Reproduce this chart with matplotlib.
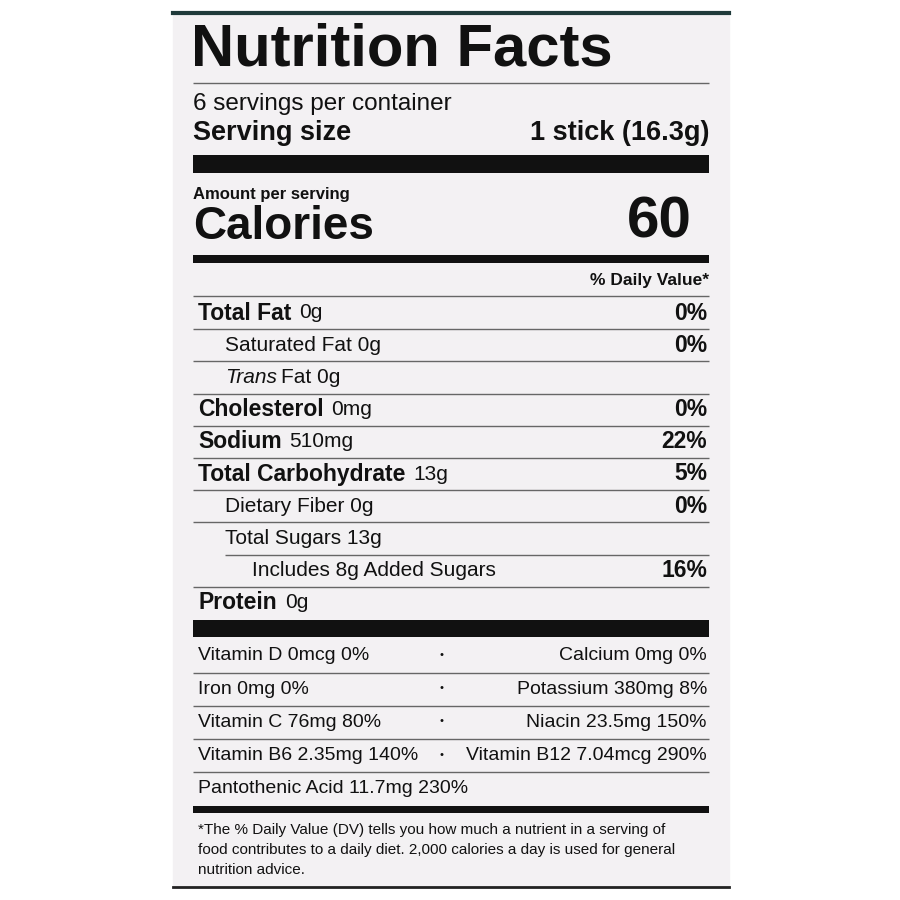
import matplotlib
matplotlib.use("Agg")
import matplotlib.pyplot as plt

plt.rcParams['font.family'] = ['Liberation Sans', 'DejaVu Sans']

title = "Nutrition Facts"
servings = "6 servings per container"
serving_size = "1 stick (16.3g)"
calories = "60"

# (label, amount, %DV, indent level)
nutrients = [
    ("Total Fat", "0g", "0%", 0),
    ("Saturated Fat", "0g", "0%", 1),
    ("Trans", "Fat 0g", "", 1),
    ("Cholesterol", "0mg", "0%", 0),
    ("Sodium", "510mg", "22%", 0),
    ("Total Carbohydrate", "13g", "5%", 0),
    ("Dietary Fiber", "0g", "0%", 1),
    ("Total Sugars", "13g", "", 1),
    ("Includes 8g Added Sugars", "", "16%", 2),
    ("Protein", "0g", "", 0),
]
vitamins_left = ["Vitamin D 0mcg 0%", "Iron 0mg 0%", "Vitamin C 76mg 80%",
                 "Vitamin B6 2.35mg 140%", "Pantothenic Acid 11.7mg 230%"]
vitamins_right = ["Calcium 0mg 0%", "Potassium 380mg 8%", "Niacin 23.5mg 150%",
                  "Vitamin B12 7.04mcg 290%", ""]
footnote = ["*The % Daily Value (DV) tells you how much a nutrient in a serving of",
            "food contributes to a daily diet. 2,000 calories a day is used for general",
            "nutrition advice."]

fig = plt.figure(figsize=(9, 9), dpi=100)
ax = fig.add_axes([0, 0, 1, 1])
ax.set_xlim(0, 900)
ax.set_ylim(900, 0)
ax.axis('off')

ink = '#111111'
L, R = 193, 709
ax.add_patch(plt.Rectangle((173, 13), 556, 874, color='#f3f1f3', zorder=0))
ax.plot([173, 729], [13, 13], color='#1f3a3a', lw=3)
ax.plot([173, 729], [887, 887], color='#222222', lw=2)

def hline(y, lw=1, x0=L, color='#666666'):
    ax.plot([x0, R], [y, y], color=color, lw=lw, solid_capstyle='butt')

def bar(y0, y1):
    ax.add_patch(plt.Rectangle((L, y0), R - L, y1 - y0, color=ink, lw=0))

ax.text(L - 2, 50, title, fontsize=43, fontweight='bold', va='center', color=ink)
hline(83)
ax.text(L, 104, servings, fontsize=17.5, va='center', color=ink)
ax.text(L, 133, "Serving size", fontsize=19.5, fontweight='bold', va='center', color=ink)
ax.text(R, 133, serving_size, fontsize=19.5, fontweight='bold', va='center', ha='right', color=ink)
bar(155, 173)
ax.text(L, 194, "Amount per serving", fontsize=12, fontweight='bold', va='center', color=ink)
ax.text(L, 227, "Calories", fontsize=33, fontweight='bold', va='center', color=ink)
ax.text(692, 222, calories, fontsize=42, fontweight='bold', va='center', ha='right', color=ink)
bar(255, 263)
ax.text(R, 280, "% Daily Value*", fontsize=12.5, fontweight='bold', va='center', ha='right', color=ink)
hline(296)

fig.canvas.draw()
r = fig.canvas.get_renderer()
inv = ax.transData.inverted()

def width(t):
    bb = t.get_window_extent(r)
    a = inv.transform((bb.x0, bb.y0))
    b = inv.transform((bb.x1, bb.y0))
    return b[0] - a[0]

indents = [L + 5, L + 32, L + 59]
row_h = 32.2
for i, (lab, amt, dv, lvl) in enumerate(nutrients):
    y = 313 + i * row_h
    x = indents[lvl]
    if lvl == 0:
        t = ax.text(x, y, lab, fontsize=16.5, fontweight='bold', va='center', color=ink)
        ax.text(x + width(t) + 8, y, amt, fontsize=15, va='center', color=ink)
    elif lab == "Trans":
        t = ax.text(x, y, lab, fontsize=15, style='italic', va='center', color=ink)
        ax.text(x + width(t) + 4, y, amt, fontsize=15, va='center', color=ink)
    else:
        ax.text(x, y, (lab + " " + amt).strip(), fontsize=15, va='center', color=ink)
    if dv:
        ax.text(R - 2, y, dv, fontsize=16.5, fontweight='bold', va='center', ha='right', color=ink)
    if i < len(nutrients) - 1:
        x0 = 225 if nutrients[i + 1][3] == 2 else L
        hline(y + row_h / 2, x0=x0)
bar(620, 637)

for i, (lt, rt) in enumerate(zip(vitamins_left, vitamins_right)):
    y = 656 + i * 33.2
    ax.text(L + 5, y, lt, fontsize=14, va='center', color=ink)
    if rt:
        ax.text(R - 2, y, rt, fontsize=14, va='center', ha='right', color=ink)
        ax.text(441, y - 1, "•", fontsize=8, va='center', ha='center', color=ink)
    if i < len(vitamins_left) - 1:
        hline(y + 16.6)
bar(806, 813)

for i, line in enumerate(footnote):
    ax.text(L + 5, 830 + i * 20, line, fontsize=11, va='center', color=ink)

fig.savefig("out.png", dpi=100)
